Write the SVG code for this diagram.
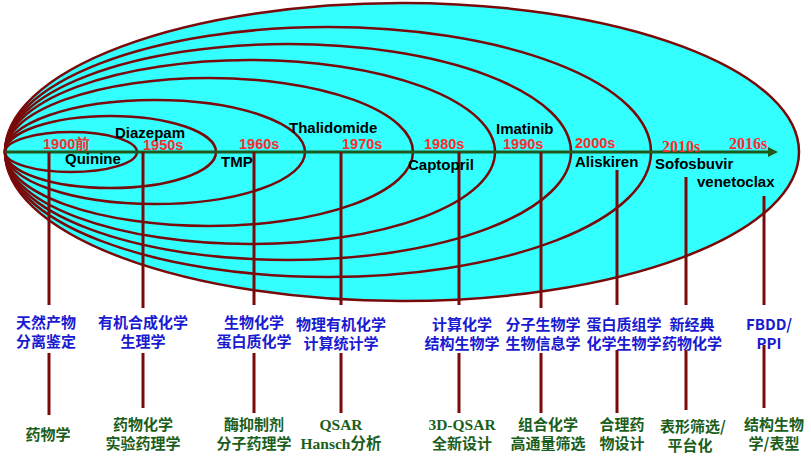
<svg xmlns="http://www.w3.org/2000/svg" width="811" height="461" viewBox="0 0 811 461">
<style>
.e{fill:none;stroke:#7a0a0a;stroke-width:2.5}
.v{stroke:#7a0a0a;stroke-width:3}
.yr{font-family:"Liberation Sans",sans-serif;font-weight:bold;font-size:14.5px;fill:#ff2a2a}
.yrs{font-family:"Liberation Serif",serif;font-weight:bold;font-size:16px;fill:#ff2a2a}
.dr{font-family:"Liberation Sans",sans-serif;font-weight:bold;font-size:15px;fill:#000}
.b{font-family:"Noto Sans CJK SC","Liberation Sans",sans-serif;font-weight:bold;font-size:15px;fill:#1a1ad0;text-anchor:middle}
.g{font-family:"Noto Sans CJK SC","Liberation Sans",sans-serif;font-weight:bold;font-size:15px;fill:#1b5e1b;text-anchor:middle}
.gs{font-family:"Liberation Serif","Noto Sans CJK SC",serif;font-weight:bold;font-size:15.5px;fill:#1b5e1b;text-anchor:middle}
</style>
<defs><marker id="ar" markerWidth="10" markerHeight="10" refX="2" refY="5" orient="auto" markerUnits="userSpaceOnUse"><path d="M0,0 L10,5 L0,10 z" fill="#1e5a1e"/></marker></defs>
<g id="ellipses">
<ellipse cx="402" cy="152" rx="397" ry="149" fill="#33ffff" stroke="#7a0a0a" stroke-width="2.5"/>
<ellipse class="e" cx="328" cy="152" rx="323" ry="125"/>
<ellipse class="e" cx="288" cy="152" rx="283" ry="108"/>
<ellipse class="e" cx="250" cy="152" rx="245" ry="92"/>
<ellipse class="e" cx="209" cy="152" rx="204" ry="74"/>
<ellipse class="e" cx="155" cy="152" rx="150" ry="52"/>
<ellipse class="e" cx="110.5" cy="152" rx="105.5" ry="36"/>
<ellipse class="e" cx="71" cy="152" rx="66" ry="20"/>
</g>
<g id="connectors">
<line x1="5" y1="152" x2="770" y2="152" stroke="#1e5a1e" stroke-width="3" marker-end="url(#ar)"/>
<line class="v" x1="49" y1="152" x2="49" y2="305"/><line class="v" x1="49" y1="353" x2="49" y2="415"/>
<line class="v" x1="143" y1="152" x2="143" y2="308"/><line class="v" x1="143" y1="353" x2="143" y2="408"/>
<line class="v" x1="254" y1="152" x2="254" y2="305"/><line class="v" x1="254" y1="353" x2="254" y2="413"/>
<line class="v" x1="341" y1="152" x2="341" y2="305"/><line class="v" x1="341" y1="353" x2="341" y2="413"/>
<line class="v" x1="459" y1="152" x2="459" y2="305"/><line class="v" x1="459" y1="353" x2="459" y2="413"/>
<line class="v" x1="541" y1="152" x2="541" y2="308"/><line class="v" x1="541" y1="353" x2="541" y2="413"/>
<line class="v" x1="617" y1="170" x2="617" y2="305"/><line class="v" x1="617" y1="350" x2="617" y2="413"/>
<line class="v" x1="686" y1="177" x2="686" y2="305"/><line class="v" x1="686" y1="350" x2="686" y2="410"/>
<line class="v" x1="764" y1="196" x2="764" y2="305"/><line class="v" x1="764" y1="345" x2="764" y2="408"/>
</g>
<g id="years">
<text class="yr" x="43" y="149">1900前</text>
<text class="yr" x="143" y="150">1950s</text>
<text class="yr" x="239" y="149">1960s</text>
<text class="yr" x="342" y="149">1970s</text>
<text class="yr" x="424" y="149">1980s</text>
<text class="yr" x="503" y="149">1990s</text>
<text class="yr" x="575" y="148">2000s</text>
<text class="yrs" x="662" y="152">2010s</text>
<text class="yrs" x="729" y="149">2016s</text>
</g>
<g id="drugs">
<text class="dr" x="65" y="164">Quinine</text>
<text class="dr" x="115" y="138" font-size="17">Diazepam</text>
<text class="dr" x="221" y="167">TMP</text>
<text class="dr" x="289" y="133" font-size="17">Thalidomide</text>
<text class="dr" x="408" y="170">Captopril</text>
<text class="dr" x="496" y="134" font-size="17">Imatinib</text>
<text class="dr" x="575" y="167">Aliskiren</text>
<text class="dr" x="655" y="169">Sofosbuvir</text>
<text class="dr" x="697" y="187">venetoclax</text>
</g>
<g id="fields">
<text class="b" x="46" y="328">天然产物</text><text class="b" x="46" y="347">分离鉴定</text>
<text class="b" x="143" y="328">有机合成化学</text><text class="b" x="143" y="347">生理学</text>
<text class="b" x="254" y="328">生物化学</text><text class="b" x="254" y="347">蛋白质化学</text>
<text class="b" x="341" y="330">物理有机化学</text><text class="b" x="341" y="349">计算统计学</text>
<text class="b" x="462" y="330">计算化学</text><text class="b" x="462" y="349">结构生物学</text>
<text class="b" x="543" y="330">分子生物学</text><text class="b" x="543" y="349">生物信息学</text>
<text class="b" x="624" y="330">蛋白质组学</text><text class="b" x="624" y="349">化学生物学</text>
<text class="b" x="692" y="330">新经典</text><text class="b" x="692" y="349">药物化学</text>
<text class="b" x="769" y="330">FBDD/</text><text class="b" x="769" y="349">PPI</text>
</g>
<g id="methods">
<text class="g" x="48" y="440">药物学</text>
<text class="g" x="143" y="430">药物化学</text><text class="g" x="143" y="449">实验药理学</text>
<text class="g" x="254" y="430">酶抑制剂</text><text class="g" x="254" y="449">分子药理学</text>
<text class="gs" x="341" y="430">QSAR</text><text class="gs" x="341" y="449">Hansch分析</text>
<text class="gs" x="462" y="430">3D-QSAR</text><text class="g" x="462" y="449">全新设计</text>
<text class="g" x="548" y="430">组合化学</text><text class="g" x="548" y="449">高通量筛选</text>
<text class="g" x="622" y="430">合理药</text><text class="g" x="622" y="449">物设计</text>
<text class="g" x="693" y="432">表形筛选/</text><text class="g" x="690" y="451">平台化</text>
<text class="g" x="774" y="430">结构生物</text><text class="g" x="774" y="449">学/表型</text>
</g>
</svg>
